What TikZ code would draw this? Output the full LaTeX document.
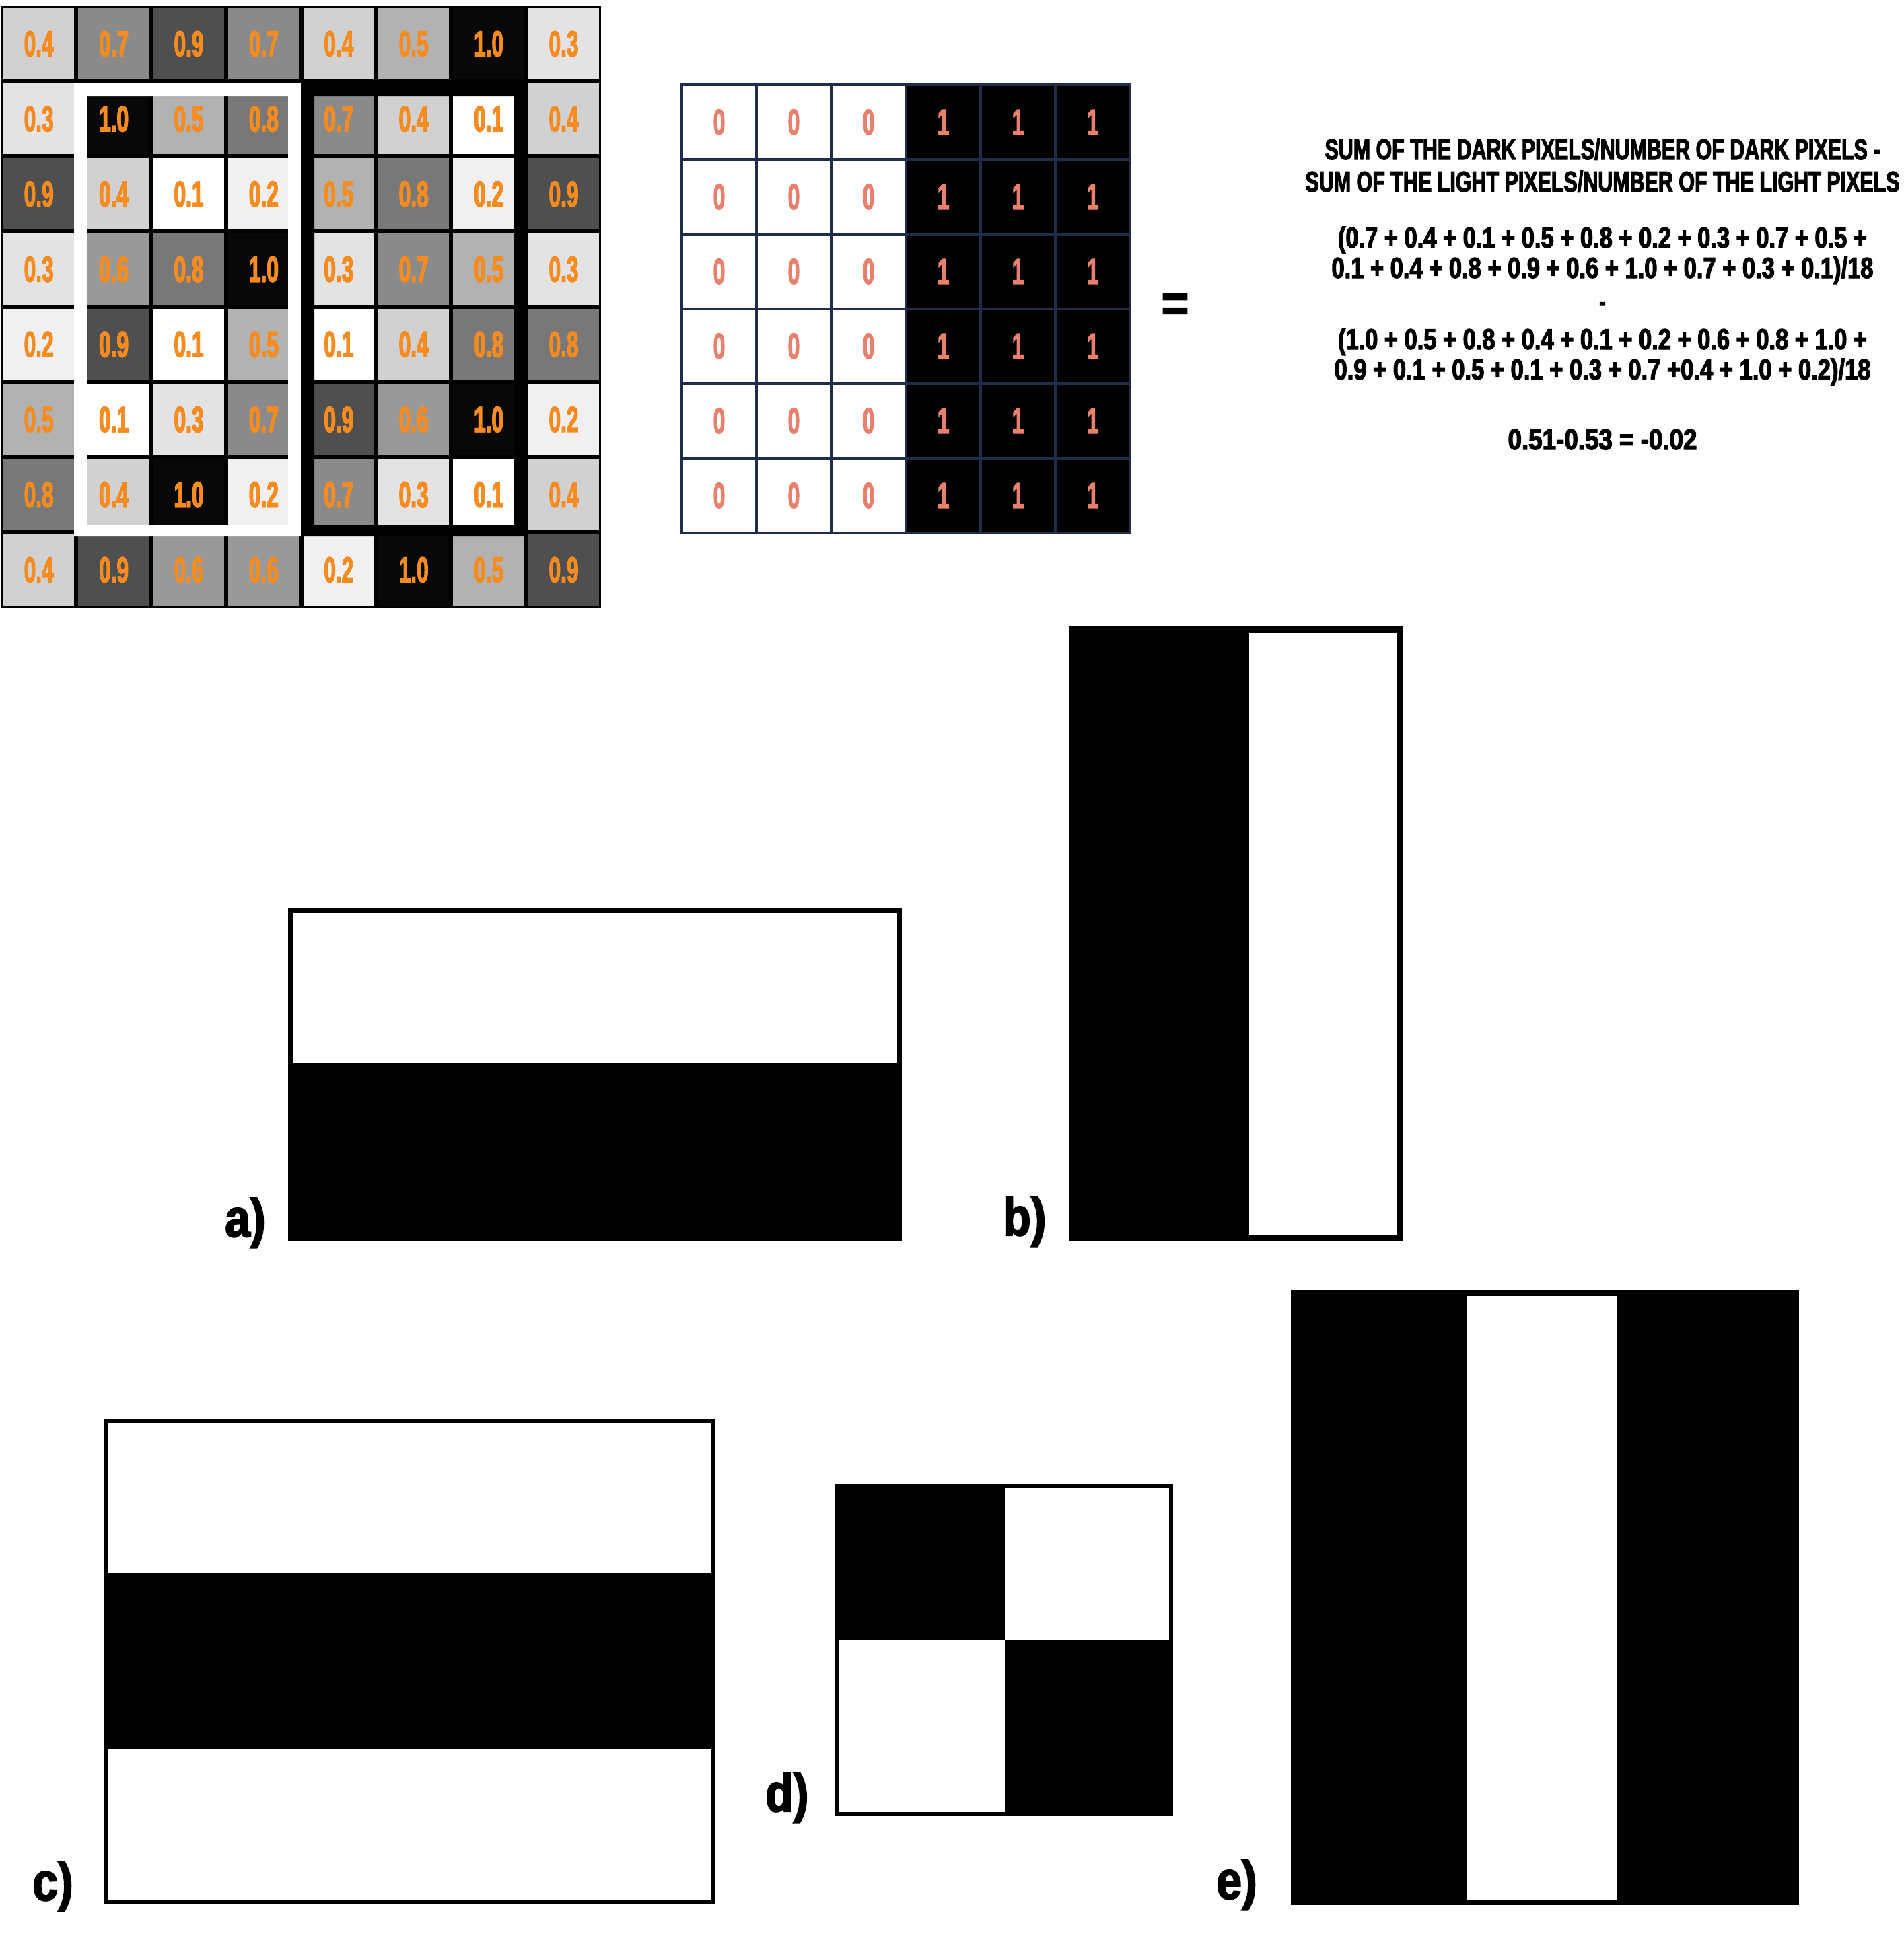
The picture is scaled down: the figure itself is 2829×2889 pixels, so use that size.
\documentclass[tikz,border=0pt]{standalone}
\usepackage{fontspec}
\usepackage{graphicx}
\newfontfamily\imp[FakeStretch=0.72,FakeBold=2.5]{Liberation Sans}
\newfontfamily\impL[FakeStretch=0.85,FakeBold=2.5]{Liberation Sans}
\definecolor{org}{HTML}{F68B1F}
\definecolor{sal}{HTML}{E8806E}
\definecolor{navy}{HTML}{1F2D4A}
\definecolor{v1}{gray}{1.0}
\definecolor{v2}{gray}{0.94}
\definecolor{v3}{gray}{0.89}
\definecolor{v4}{gray}{0.82}
\definecolor{v5}{gray}{0.70}
\definecolor{v6}{gray}{0.60}
\definecolor{v7}{gray}{0.54}
\definecolor{v8}{gray}{0.47}
\definecolor{v9}{gray}{0.31}
\definecolor{v10}{gray}{0.03}
\newcommand\fitw[2]{\resizebox{#1}{1.08\height}{#2}}
\newcommand\tallt[1]{\scalebox{1}[1.22]{#1}}
\tikzset{
  celltext/.style={inner sep=0pt, text=org, font=\imp\bfseries\fontsize{44}{46}\selectfont},
  bintext/.style={inner sep=0pt, text=sal, font=\imp\bfseries\fontsize{44}{46}\selectfont},
  eqtext/.style={inner sep=0pt, anchor=base, text=black, font=\imp\bfseries\fontsize{40}{42}\selectfont},
  lbltext/.style={inner sep=0pt, anchor=base west, text=black, font=\impL\bfseries\fontsize{80}{82}\selectfont},
  gridline/.style={navy, line width=4pt},
  outline/.style={draw=black, fill=white, line width=7pt}
}
\begin{document}
\begin{tikzpicture}[x=1pt,y=-1pt]
\useasboundingbox (0,0) rectangle (2829,2889);
\fill[white] (0,0) rectangle (2829,2889);

% ---------- grey-value grid ----------
\fill[black] (2,9) rectangle (893,903);
\foreach \row [count=\r from 0] in {
  {4,7,9,7,4,5,10,3},
  {3,10,5,8,7,4,1,4},
  {9,4,1,2,5,8,2,9},
  {3,6,8,10,3,7,5,3},
  {2,9,1,5,1,4,8,8},
  {5,1,3,7,9,6,10,2},
  {8,4,10,2,7,3,1,4},
  {4,9,6,6,2,10,5,9}} {
  \foreach \v [count=\c from 0] in \row {
    \pgfmathsetmacro\xa{2+\c*111.4}
    \pgfmathsetmacro\ya{9+\r*111.7}
    \fill[v\v] (\xa+3,\ya+3) rectangle (\xa+108.4,\ya+108.7);
    \node[celltext] (g\r-\c) at (\xa+55.7,\ya+56) {\tallt{\ifnum\v=10 1.0\else 0.\v\fi}};
  }
}
% white frame and black frame
\fill[white, even odd rule] (110,123) rectangle (447,797) (129,143) rectangle (428,780);
\fill[black, even odd rule] (447,123) rectangle (783,797) (467,143) rectangle (764,780);
% texts of framed cells on top
\foreach \r/\c/\t in {1/1/1.0,1/2/0.5,1/3/0.8,2/1/0.4,2/2/0.1,2/3/0.2,3/1/0.6,3/2/0.8,3/3/1.0,
  4/1/0.9,4/2/0.1,4/3/0.5,5/1/0.1,5/2/0.3,5/3/0.7,6/1/0.4,6/2/1.0,6/3/0.2,
  1/4/0.7,1/5/0.4,1/6/0.1,2/4/0.5,2/5/0.8,2/6/0.2,3/4/0.3,3/5/0.7,3/6/0.5,
  4/4/0.1,4/5/0.4,4/6/0.8,5/4/0.9,5/5/0.6,5/6/1.0,6/4/0.7,6/5/0.3,6/6/0.1} {
  \node[celltext] (h\r-\c) at ({2+\c*111.4+55.7},{9+\r*111.7+56}) {\tallt{\t}};
}

% ---------- binary grid ----------
\foreach \c in {0,...,5} {
  \foreach \r in {0,...,5} {
    \pgfmathsetmacro\xa{1013+\c*111}
    \pgfmathsetmacro\ya{126+\r*111}
    \ifnum\c<3
      \fill[white] (\xa,\ya) rectangle (\xa+111,\ya+111);
      \node[bintext] (b\r-\c) at (\xa+55.5,\ya+55.5) {\tallt{0}};
    \else
      \fill[black] (\xa,\ya) rectangle (\xa+111,\ya+111);
      \node[bintext] (b\r-\c) at (\xa+55.5,\ya+55.5) {\tallt{1}};
    \fi
  }
}
\foreach \i in {0,...,6} {
  \draw[gridline] ({1013+\i*111},124) -- ({1013+\i*111},794);
  \draw[gridline] (1011,{126+\i*111}) -- (1681,{126+\i*111});
}

% ---------- equation ----------
\node[inner sep=0pt, font=\imp\bfseries\fontsize{60}{60}\selectfont] (eq) at (1746,457) {\resizebox{40pt}{40pt}{=}};
\node[eqtext] (l1) at (2381,237) {\fitw{825pt}{SUM OF THE DARK PIXELS/NUMBER OF DARK PIXELS -}};
\node[eqtext] (l2) at (2381,285) {\fitw{883pt}{SUM OF THE LIGHT PIXELS/NUMBER OF THE LIGHT PIXELS}};
\node[eqtext] (l3) at (2381,368) {\fitw{786pt}{(0.7 + 0.4 + 0.1 + 0.5 + 0.8 + 0.2 + 0.3 + 0.7 + 0.5 +}};
\node[eqtext] (l4) at (2381,413) {\fitw{805pt}{0.1 + 0.4 + 0.8 + 0.9 + 0.6 + 1.0 + 0.7 + 0.3 + 0.1)/18}};
\node[eqtext] (l5) at (2381,462) {-};
\node[eqtext] (l6) at (2381,519) {\fitw{786pt}{(1.0 + 0.5 + 0.8 + 0.4 + 0.1 + 0.2 + 0.6 + 0.8 + 1.0 +}};
\node[eqtext] (l7) at (2381,564) {\fitw{797pt}{0.9 + 0.1 + 0.5 + 0.1 + 0.3 + 0.7 +0.4 + 1.0 + 0.2)/18}};
\node[eqtext] (l8) at (2381,668) {\fitw{281pt}{0.51-0.53 = -0.02}};

% ---------- a) ----------
\draw[outline] (431.5,1353.5) rectangle (1336.5,1582);
\fill[black] (428,1582) rectangle (1340,1844);
\node[lbltext] (la) at (334,1838) {a)};

% ---------- b) ----------
\fill[black] (1589,931) rectangle (1853,1844);
\draw[outline, line width=9pt] (1851,935.5) rectangle (2080.5,1839.5);
\node[lbltext] (lb) at (1490,1836) {b)};

% ---------- c) ----------
\draw[outline, line width=6pt] (158,2112) rectangle (1059,2826);
\fill[black] (155,2338) rectangle (1062,2599);
\node[lbltext] (lc) at (48,2824) {c)};

% ---------- d) ----------
\draw[outline, line width=6pt] (1243,2208) rectangle (1740,2696);
\fill[black] (1240,2205) rectangle (1493,2437);
\fill[black] (1493,2437) rectangle (1743,2699);
\node[lbltext] (ld) at (1137,2692) {d)};

% ---------- e) ----------
\fill[black] (1918,1917) rectangle (2673,2831);
\fill[white] (2179,1926) rectangle (2403,2824);
\node[lbltext] (le) at (1807,2822) {e)};
\end{tikzpicture}
\end{document}
